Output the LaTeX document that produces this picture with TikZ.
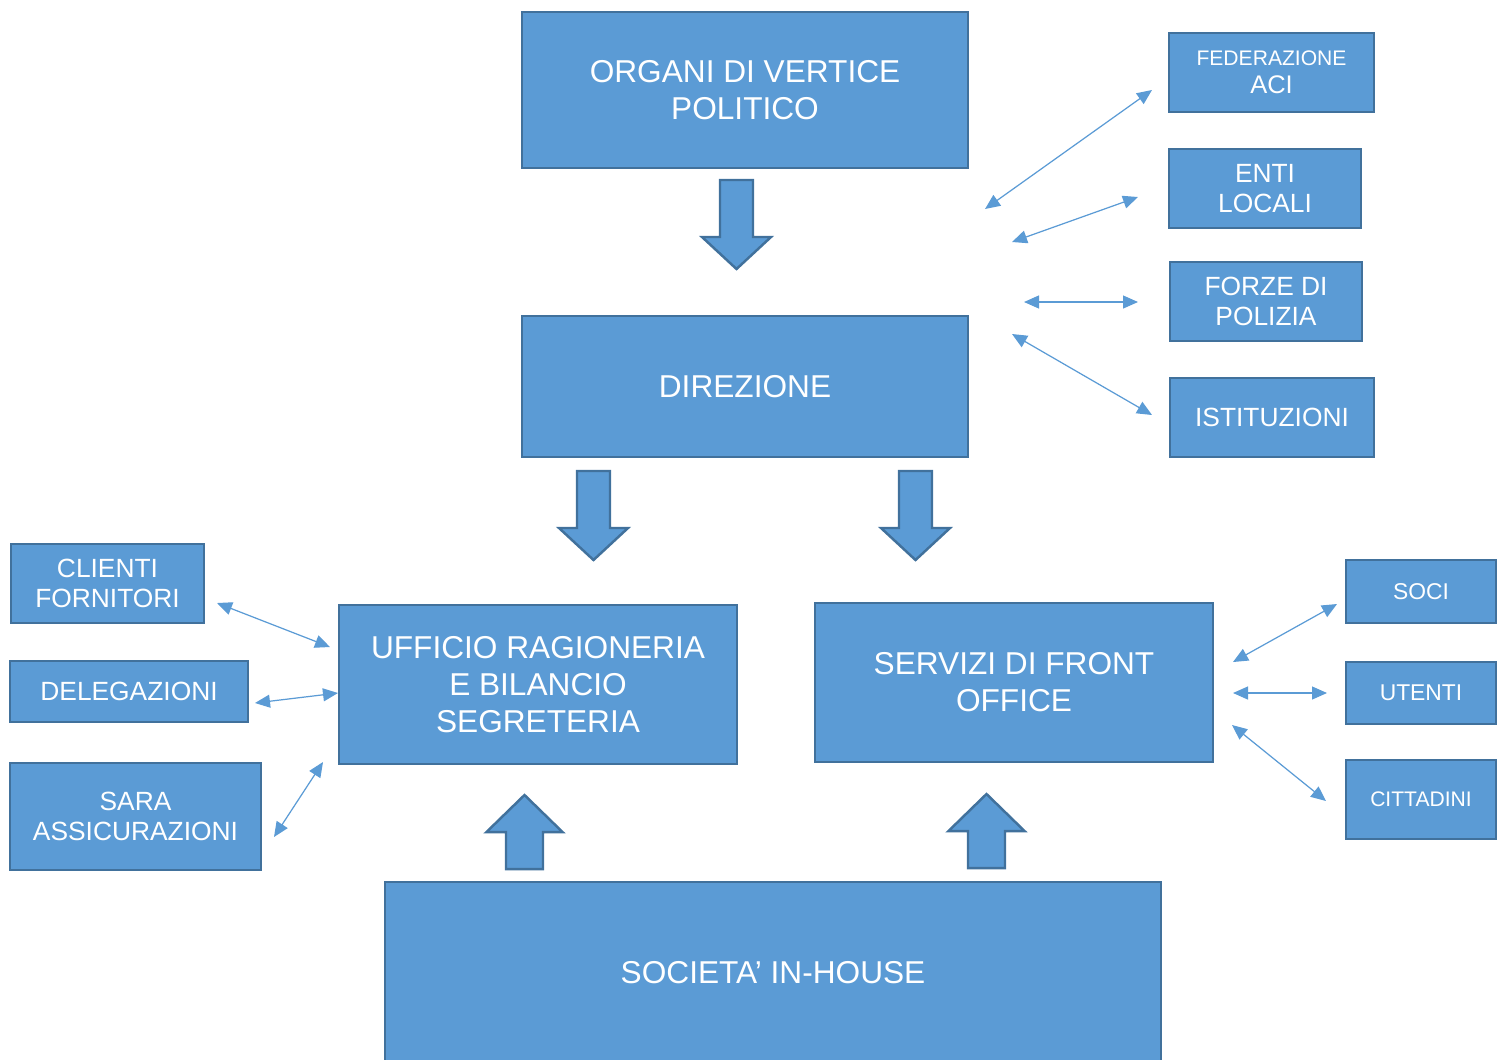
\documentclass[tikz,border=0pt]{standalone}
\usepackage{fontspec}
\setmainfont{Liberation Sans}
\usetikzlibrary{arrows.meta}
\definecolor{boxfill}{HTML}{5B9BD5}
\definecolor{boxline}{HTML}{41719C}

\begin{document}
\begin{tikzpicture}[x=0.02cm,y=-0.02cm,
box/.style = {rectangle, fill=boxfill, draw=boxline, line width=1.4pt, text=white, align=center, inner sep=2pt},
big/.style = {box, font=\fontsize{18}{21}\selectfont},
small/.style = {box, font=\fontsize{15}{17}\selectfont},
blk/.style = {fill=boxfill, draw=boxline, line width=1.4pt, line join=miter},
link/.style = {draw=boxfill, line width=0.7pt, {Triangle[length=0.3cm,width=0.26cm]}-{Triangle[length=0.3cm,width=0.26cm]}}]
\useasboundingbox (0,0) rectangle (1506,1059);

% main blocks
\node[big, minimum width=8.92cm, minimum height=3.12cm] (org) at (745,90) {ORGANI DI VERTICE\\POLITICO};
\node[big, minimum width=8.92cm, minimum height=2.82cm] (dir) at (745,386.5) {DIREZIONE};
\node[big, minimum width=7.96cm, minimum height=3.18cm] (uff) at (538,684.5) {UFFICIO RAGIONERIA\\E BILANCIO\\SEGRETERIA};
\node[big, minimum width=7.96cm, minimum height=3.18cm] (fro) at (1014,682.5) {SERVIZI DI FRONT\\OFFICE};
\node[big, minimum width=15.52cm, minimum height=3.64cm] (inh) at (773,973) {SOCIETA’ IN-HOUSE};

% right top
\node[box, font=\fontsize{14.5}{16}\selectfont, minimum width=4.1cm, minimum height=1.58cm] (aci) at (1271.5,72.5) {{\fontsize{12}{14}\selectfont FEDERAZIONE}\\ACI};
\node[small, minimum width=3.84cm, minimum height=1.58cm] (enti) at (1265,188.5) {ENTI\\LOCALI};
\node[small, minimum width=3.84cm, minimum height=1.58cm] (pol) at (1266,301.5) {FORZE DI\\POLIZIA};
\node[small, minimum width=4.08cm, minimum height=1.58cm] (ist) at (1272,417.5) {ISTITUZIONI};

% left
\node[small, minimum width=3.86cm, minimum height=1.58cm] (cli) at (107.5,583.5) {CLIENTI\\FORNITORI};
\node[small, minimum width=4.76cm, minimum height=1.22cm] (del) at (129,691.5) {DELEGAZIONI};
\node[small, minimum width=5.02cm, minimum height=2.14cm] (sara) at (135.5,816.5) {SARA\\ASSICURAZIONI};

% right bottom
\node[box, font=\fontsize{13}{15}\selectfont, minimum width=3cm, minimum height=1.26cm] (soci) at (1421,591.5) {SOCI};
\node[box, font=\fontsize{13}{15}\selectfont, minimum width=3cm, minimum height=1.24cm] (ute) at (1421,693) {UTENTI};
\node[box, font=\fontsize{12}{14}\selectfont, minimum width=3cm, minimum height=1.58cm] (cit) at (1421,799.5) {CITTADINI};

% block arrows
\foreach \x/\y in {736.5/180, 593.5/471, 915.5/471}
  \draw[blk] (\x-16.5,\y) -- (\x+16.5,\y) -- (\x+16.5,\y+57) -- (\x+34.5,\y+57)
    -- (\x,\y+89) -- (\x-34.5,\y+57) -- (\x-16.5,\y+57) -- cycle;
\foreach \x/\y in {524.5/795, 986.5/794}
  \draw[blk] (\x,\y) -- (\x+38,\y+37) -- (\x+18.5,\y+37) -- (\x+18.5,\y+74)
    -- (\x-18.5,\y+74) -- (\x-18.5,\y+37) -- (\x-38,\y+37) -- cycle;

% thin double arrows
\coordinate (aciA) at (985,209);   \coordinate (aciB) at (1152,90);
\coordinate (entiA) at (1012,242); \coordinate (entiB) at (1138,197);
\coordinate (polA) at (1024,302);  \coordinate (polB) at (1138,302);
\coordinate (istA) at (1012,334);  \coordinate (istB) at (1152,415);
\coordinate (cliA) at (217,603);   \coordinate (cliB) at (330,647);
\coordinate (delA) at (255,703);   \coordinate (delB) at (338,693);
\coordinate (saraA) at (274,837);  \coordinate (saraB) at (323,762);
\coordinate (sociA) at (1233,662); \coordinate (sociB) at (1337,604);
\coordinate (uteA) at (1233,693);  \coordinate (uteB) at (1327,693);
\coordinate (citA) at (1232,725);  \coordinate (citB) at (1326,801);
\foreach \n in {aci,enti,pol,ist,cli,del,sara,soci,ute,cit}
  \draw[link] (\n A) -- (\n B);

\end{tikzpicture}
\end{document}
